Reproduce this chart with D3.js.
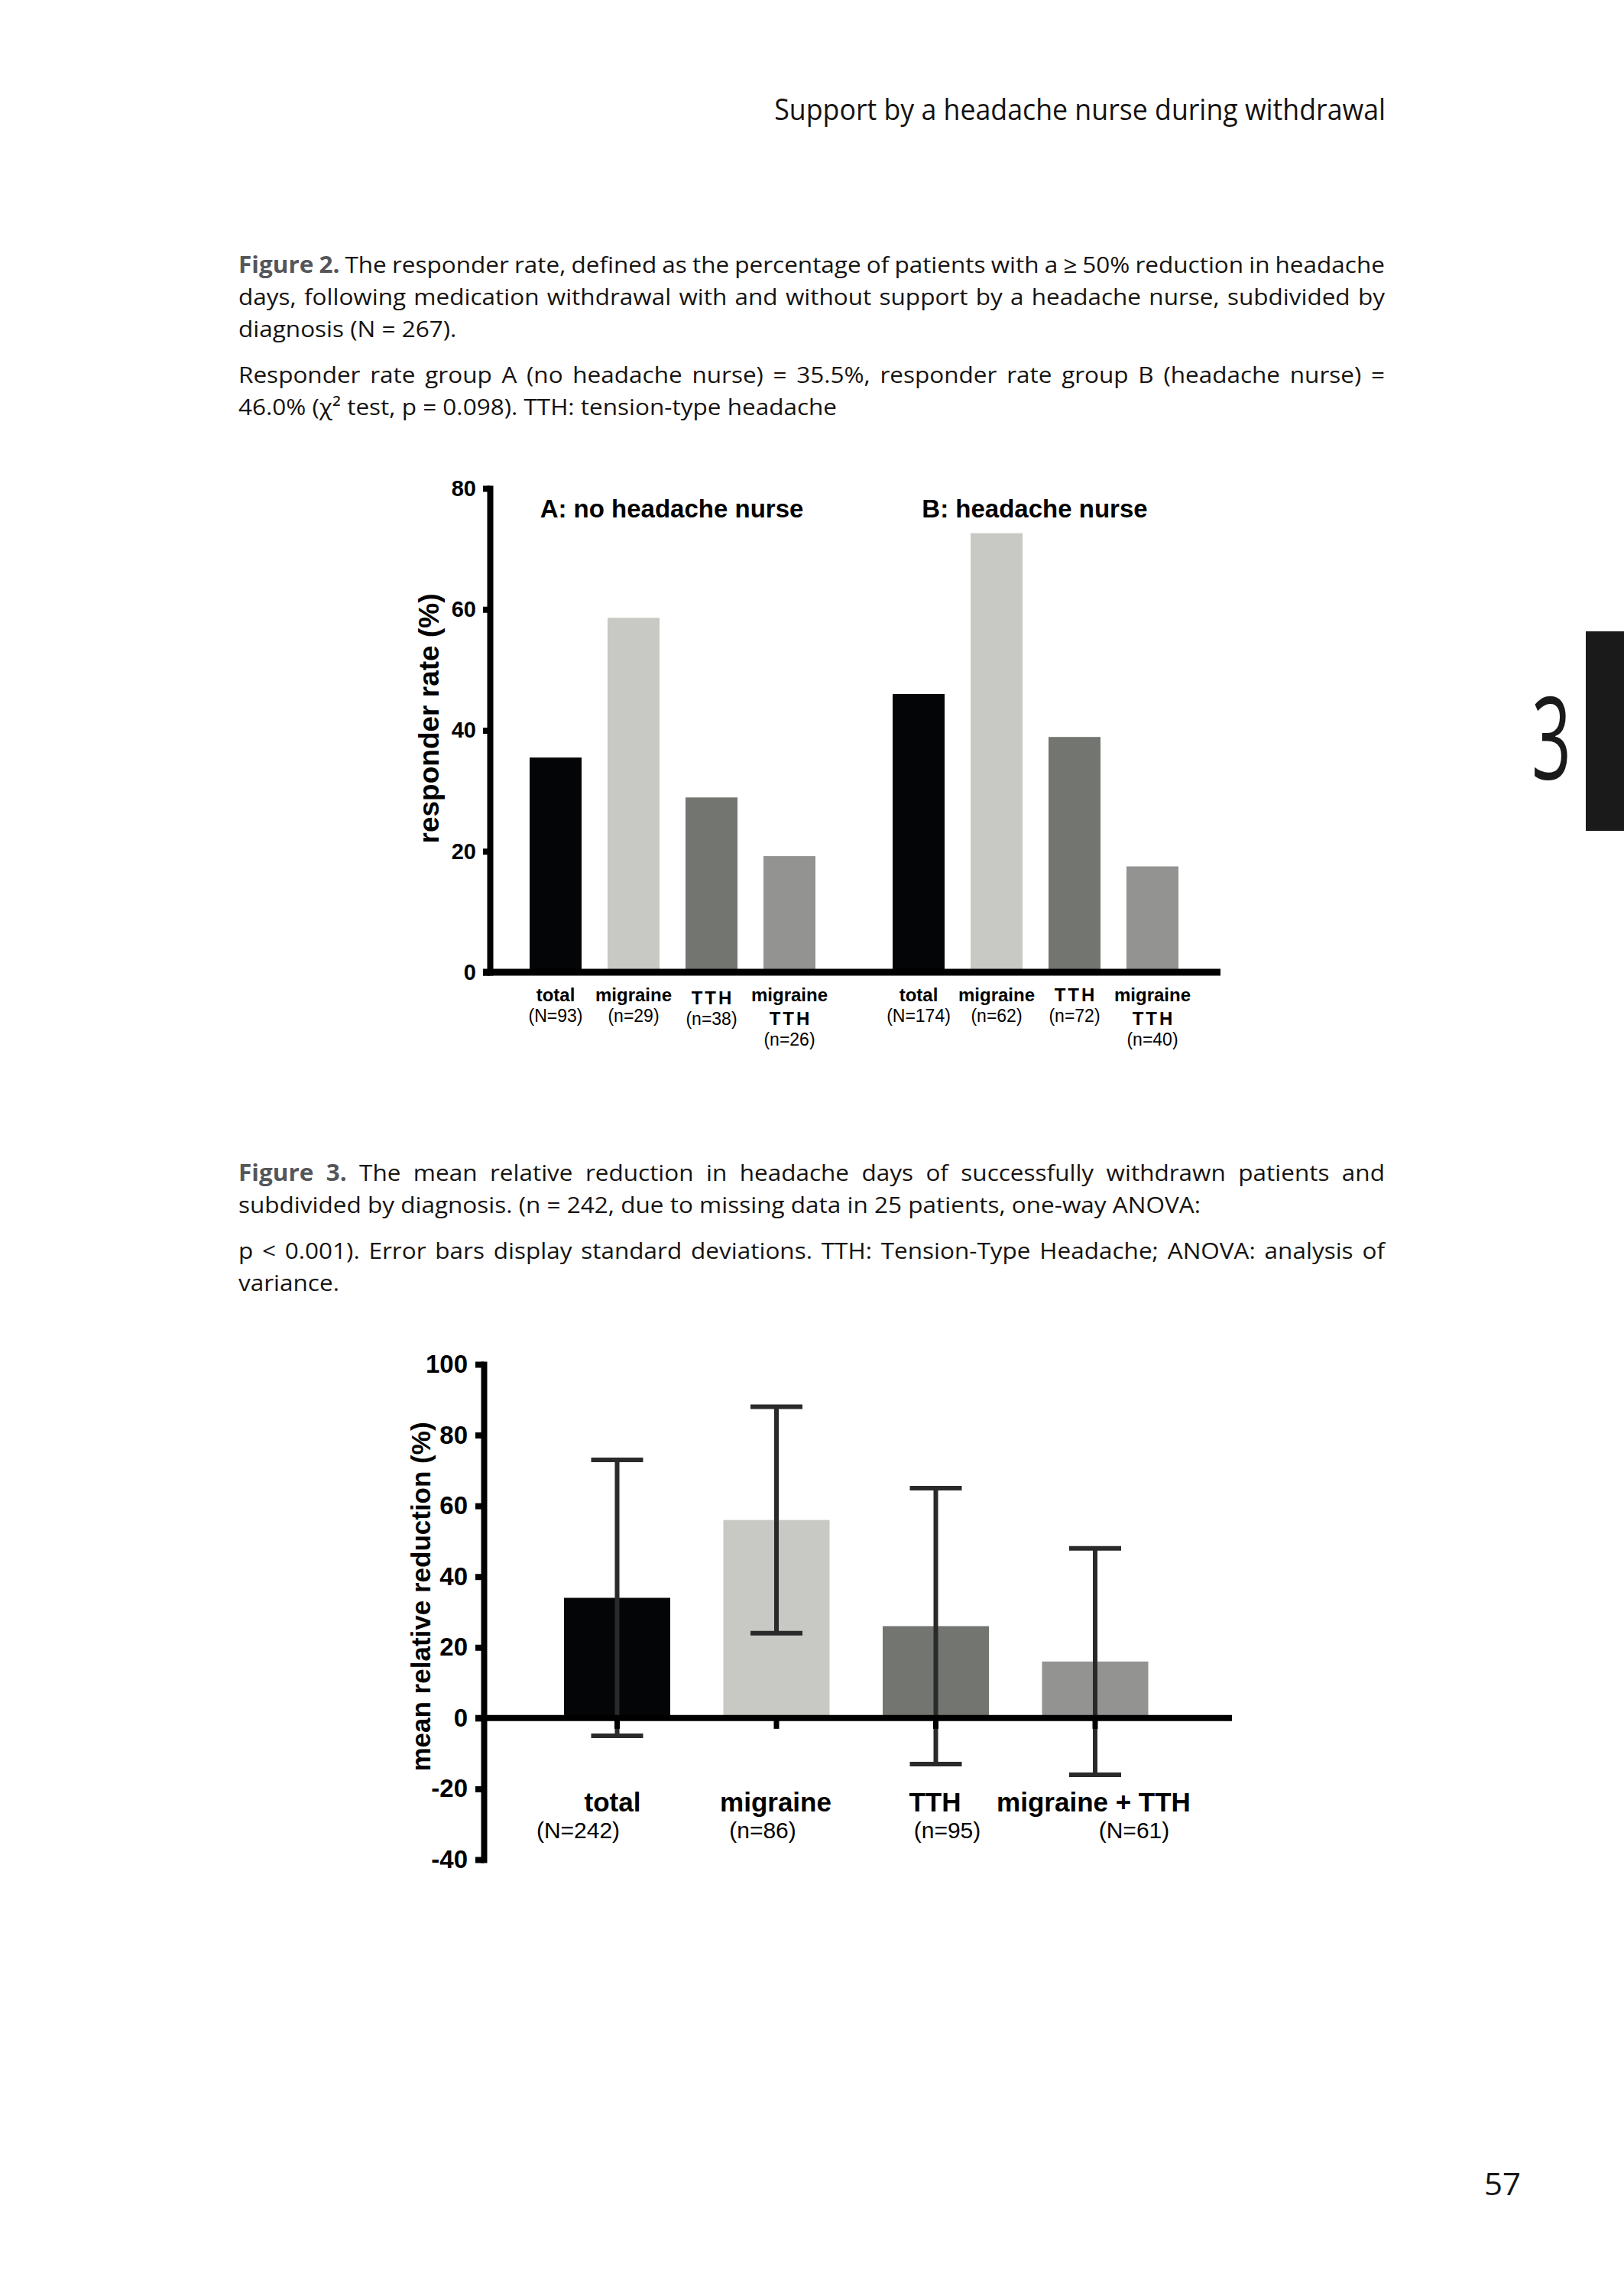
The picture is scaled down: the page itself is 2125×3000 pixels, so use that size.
<!DOCTYPE html>
<html><head><meta charset="utf-8">
<script src="https://cdn.jsdelivr.net/npm/d3@7"></script>
<style>html,body{margin:0;padding:0;background:#fff;} svg{display:block;}</style>
</head><body>
<svg id="page" width="2125" height="3000"></svg>
<script>
// ---------------- DATA ----------------
const headerText = "Support by a headache nurse during withdrawal";
const fig2CaptionLines = [
  {lead: "Figure 2.", text: "The responder rate, defined as the percentage of patients with a ≥ 50% reduction in headache", justify: true},
  {lead: "", text: "days, following medication withdrawal with and without support by a headache nurse, subdivided by", justify: true},
  {lead: "", text: "diagnosis (N = 267).", justify: false},
  {lead: "", text: "Responder rate group A (no headache nurse) = 35.5%, responder rate group B (headache nurse) =", justify: true},
  {lead: "", text: "46.0% (χ² test, p = 0.098). TTH: tension-type headache", justify: false}
];
const fig3CaptionLines = [
  {lead: "Figure 3.", text: "The mean relative reduction in headache days of successfully withdrawn patients and", justify: true},
  {lead: "", text: "subdivided by diagnosis. (n = 242, due to missing data in 25 patients, one-way ANOVA:", justify: false},
  {lead: "", text: "p < 0.001). Error bars display standard deviations. TTH: Tension-Type Headache; ANOVA: analysis of", justify: true},
  {lead: "", text: "variance.", justify: false}
];

const fig2Groups = ["A: no headache nurse", "B: headache nurse"];
const fig2Categories = ["total", "migraine", "TTH", "migraine TTH"];
const fig2CategoryLines = [["total"], ["migraine"], ["TTH"], ["migraine", "TTH"]];
const fig2ValuesA = [35.5, 58.6, 28.9, 19.2];
const fig2ValuesB = [46.0, 72.6, 38.9, 17.5];
const fig2CountsA = ["(N=93)", "(n=29)", "(n=38)", "(n=26)"];
const fig2CountsB = ["(N=174)", "(n=62)", "(n=72)", "(n=40)"];
const fig2Ticks = [0, 20, 40, 60, 80];
const fig2YLabel = "responder rate (%)";

const fig3Categories = ["total", "migraine", "TTH", "migraine + TTH"];
const fig3Means = [34, 56, 26, 16];
const fig3SD = [39, 32, 39, 32];
const fig3Counts = ["(N=242)", "(n=86)", "(n=95)", "(N=61)"];
const fig3Ticks = [-40, -20, 0, 20, 40, 60, 80, 100];
const fig3YLabel = "mean relative reduction (%)";

const chapterNumber = "3";
const pageNumber = "57";

// ---------------- STYLE ----------------
const BODY_FONT = "'Open Sans', 'Noto Sans', sans-serif";
const CHART_FONT = "'Liberation Sans', Arial, Helvetica, sans-serif";
const TEXT_COLOR = "#161311";
const LEAD_COLOR = "#55565a";
const catColors = ["#040507", "#c8c9c4", "#737571", "#939492"];
const BODY_SIZE = 30;

const svg = d3.select("#page");
svg.append("rect").attr("width", 2125).attr("height", 3000).attr("fill", "#fff");

const tmp = svg.append("g").attr("opacity", 0);
function textWidth(str, size, weight, family) {
  const t = tmp.append("text").attr("font-family", family).attr("font-size", size)
    .attr("font-weight", weight).text(str);
  const w = t.node().getComputedTextLength();
  t.remove();
  return w;
}
const spaceW = textWidth("n n", BODY_SIZE, 400, BODY_FONT) - textWidth("nn", BODY_SIZE, 400, BODY_FONT);

function lineWords(line) {
  const words = [];
  if (line.lead) line.lead.split(" ").forEach(w => words.push({t: w, bold: true}));
  line.text.split(" ").forEach(w => words.push({t: w, bold: false}));
  words.forEach(w => w.w = textWidth(w.t, BODY_SIZE, w.bold ? 700 : 400, BODY_FONT));
  return words;
}
function naturalWidth(words) {
  return d3.sum(words, d => d.w) + (words.length - 1) * spaceW;
}

// horizontal condensation factor derived from the free (non-justified) long lines
const refA = naturalWidth(lineWords(fig2CaptionLines[4]));
const refB = naturalWidth(lineWords(fig3CaptionLines[1]));
const SX = ((1092 - 312) / refA + (1576 - 312) / refB) / 2;

function drawParagraph(lines, x0, baselines, width) {
  lines.forEach((line, i) => {
    const words = lineWords(line);
    const g = svg.append("g").attr("transform", `translate(${x0},${baselines[i]}) scale(${SX},1)`);
    let gap = spaceW;
    if (line.justify && words.length > 1) gap = (width / SX - d3.sum(words, d => d.w)) / (words.length - 1);
    let x = 0;
    words.forEach(w => {
      g.append("text").attr("x", x).attr("y", 0)
        .attr("font-family", BODY_FONT).attr("font-size", BODY_SIZE)
        .attr("font-weight", w.bold ? 700 : 400)
        .attr("fill", w.bold ? LEAD_COLOR : TEXT_COLOR)
        .text(w.t);
      x += w.w + gap;
    });
  });
}

// ---------------- HEADER / PAGE FURNITURE ----------------
{
  const hs = 38;
  const hw = textWidth(headerText, hs, 400, BODY_FONT);
  const hsx = (1813 - 1013) / hw;
  svg.append("g").attr("transform", `translate(1813,157) scale(${hsx},1)`)
    .append("text").attr("text-anchor", "end").attr("font-family", BODY_FONT)
    .attr("font-size", hs).attr("fill", TEXT_COLOR).text(headerText);
}
svg.append("rect").attr("x", 2075).attr("y", 826).attr("width", 50).attr("height", 261).attr("fill", "#1a1a1a");
{
  const cs = 150;
  const cw = textWidth(chapterNumber, cs, 400, BODY_FONT);
  const csx = 52 / cw;
  svg.append("g").attr("transform", `translate(2030,1020) scale(${csx},1)`)
    .append("text").attr("text-anchor", "middle").attr("font-family", BODY_FONT)
    .attr("font-weight", 400).attr("font-size", cs).attr("fill", "#1a1a1a").text(chapterNumber);
}
svg.append("g").attr("transform", `translate(1990,2872) scale(${SX},1)`)
  .append("text").attr("text-anchor", "end").attr("font-family", BODY_FONT)
  .attr("font-size", 40).attr("fill", TEXT_COLOR).text(pageNumber);

// ---------------- CAPTIONS ----------------
drawParagraph(fig2CaptionLines, 312, [357, 399, 441, 501, 543], 1500);
drawParagraph(fig3CaptionLines, 312, [1545, 1587, 1647, 1689], 1500);

// ---------------- FIGURE 2 ----------------
{
  const axisX = 641;
  const y = d3.scaleLinear().domain([0, 80]).range([1272, 639]);
  const outer = d3.scaleBand().domain(fig2Groups).range([693, 1542]).paddingInner(101 / 475).paddingOuter(0);
  const inner = d3.scaleBand().domain(fig2Categories).range([0, outer.bandwidth()]).paddingInner(34 / 102).paddingOuter(0);
  const groupData = [fig2ValuesA, fig2ValuesB];
  const groupCounts = [fig2CountsA, fig2CountsB];
  const g = svg.append("g");

  fig2Groups.forEach((grp, gi) => {
    const gg = g.append("g").attr("transform", `translate(${outer(grp)},0)`);
    gg.selectAll("rect").data(fig2Categories).join("rect")
      .attr("x", d => inner(d)).attr("width", inner.bandwidth())
      .attr("y", (d, i) => y(groupData[gi][i]))
      .attr("height", (d, i) => y(0) - y(groupData[gi][i]))
      .attr("fill", (d, i) => catColors[i]);
    // group title
    g.append("text").attr("x", outer(grp) + outer.bandwidth() / 2 - 1).attr("y", 677)
      .attr("text-anchor", "middle").attr("font-family", CHART_FONT).attr("font-weight", 700)
      .attr("font-size", 33).attr("fill", "#000").text(grp);
    // category labels
    fig2Categories.forEach((c, i) => {
      const cx = outer(grp) + inner(c) + inner.bandwidth() / 2;
      const lines = fig2CategoryLines[i];
      const shift = (gi === 0 && i === 2) ? 4 : 0;
      lines.forEach((ln, li) => {
        g.append("text").attr("x", cx + (ln === "TTH" ? 1.5 : 0)).attr("y", 1310 + li * 31 + shift)
          .attr("text-anchor", "middle").attr("font-family", CHART_FONT).attr("font-weight", 700)
          .attr("font-size", 24).attr("letter-spacing", ln === "TTH" ? 3 : 0).attr("fill", "#000").text(ln);
      });
      g.append("text").attr("x", cx).attr("y", 1337 + (lines.length - 1) * 31 + shift)
        .attr("text-anchor", "middle").attr("font-family", CHART_FONT).attr("font-weight", 400)
        .attr("font-size", 23).attr("fill", "#000").text(groupCounts[gi][i]);
    });
  });

  // x axis line
  g.append("line").attr("x1", 632).attr("x2", 1597).attr("y1", y(0)).attr("y2", y(0))
    .attr("stroke", "#000").attr("stroke-width", 9);
  // y axis
  const ya = g.append("g").attr("transform", `translate(${axisX},0)`)
    .call(d3.axisLeft(y).tickValues(fig2Ticks).tickSize(9).tickSizeOuter(0).tickPadding(9));
  ya.select(".domain").attr("stroke", "#000").attr("stroke-width", 8).attr("stroke-linecap", "square");
  ya.selectAll(".tick line").attr("stroke", "#000").attr("stroke-width", 8);
  ya.selectAll(".tick text").attr("font-family", CHART_FONT).attr("font-weight", 700)
    .attr("font-size", 29).attr("fill", "#000");
  // y label
  g.append("text").attr("transform", `translate(574,940) rotate(-90)`)
    .attr("text-anchor", "middle").attr("font-family", CHART_FONT).attr("font-weight", 700)
    .attr("font-size", 37).attr("fill", "#000").text(fig2YLabel);
}

// ---------------- FIGURE 3 ----------------
{
  const axisX = 633;
  const y = d3.scaleLinear().domain([-40, 100]).range([2433, 1785]);
  const x = d3.scaleBand().domain(fig3Categories).range([738, 1502.5]).paddingInner(69.5 / 208.5).paddingOuter(0);
  const g = svg.append("g");
  const countDx = [-51, -18, 15, 51];
  const catDx = [-6, -1, -1, -2];

  g.selectAll("rect.bar").data(fig3Categories).join("rect").attr("class", "bar")
    .attr("x", d => x(d)).attr("width", x.bandwidth())
    .attr("y", (d, i) => y(fig3Means[i]))
    .attr("height", (d, i) => y(0) - y(fig3Means[i]))
    .attr("fill", (d, i) => catColors[i]);

  // error bars
  const eb = g.append("g").attr("stroke", "#2a2a2a").attr("stroke-width", 6);
  fig3Categories.forEach((c, i) => {
    const cx = x(c) + x.bandwidth() / 2;
    const hi = y(fig3Means[i] + fig3SD[i]);
    const lo = y(fig3Means[i] - fig3SD[i]);
    eb.append("line").attr("x1", cx).attr("x2", cx).attr("y1", hi).attr("y2", lo);
    eb.append("line").attr("x1", cx - 34).attr("x2", cx + 34).attr("y1", hi).attr("y2", hi);
    eb.append("line").attr("x1", cx - 34).attr("x2", cx + 34).attr("y1", lo).attr("y2", lo);
  });

  // x axis
  g.append("line").attr("x1", 622).attr("x2", 1612).attr("y1", y(0)).attr("y2", y(0))
    .attr("stroke", "#000").attr("stroke-width", 8);
  const xa = g.append("g").attr("transform", `translate(0,${y(0)})`)
    .call(d3.axisBottom(x).tickSize(14).tickSizeOuter(0).tickFormat(""));
  xa.select(".domain").remove();
  xa.selectAll(".tick line").attr("stroke", "#000").attr("stroke-width", 7);

  // y axis
  const ya = g.append("g").attr("transform", `translate(${axisX},0)`)
    .call(d3.axisLeft(y).tickValues(fig3Ticks).tickSize(11).tickSizeOuter(0).tickPadding(10));
  ya.select(".domain").attr("stroke", "#000").attr("stroke-width", 8).attr("stroke-linecap", "square");
  ya.selectAll(".tick line").attr("stroke", "#000").attr("stroke-width", 8);
  ya.selectAll(".tick text").attr("font-family", CHART_FONT).attr("font-weight", 700)
    .attr("font-size", 33).attr("fill", "#000").text(d => String(d));

  // category labels
  fig3Categories.forEach((c, i) => {
    const cx = x(c) + x.bandwidth() / 2;
    g.append("text").attr("x", cx + catDx[i]).attr("y", 2370).attr("text-anchor", "middle")
      .attr("font-family", CHART_FONT).attr("font-weight", 700).attr("font-size", 35)
      .attr("fill", "#000").text(c);
    g.append("text").attr("x", cx + countDx[i]).attr("y", 2405).attr("text-anchor", "middle")
      .attr("font-family", CHART_FONT).attr("font-weight", 400).attr("font-size", 30)
      .attr("fill", "#000").text(fig3Counts[i]);
  });

  g.append("text").attr("transform", `translate(563,2089) rotate(-90)`)
    .attr("text-anchor", "middle").attr("font-family", CHART_FONT).attr("font-weight", 700)
    .attr("font-size", 35).attr("fill", "#000").text(fig3YLabel);
}
tmp.remove();
</script>
</body></html>
